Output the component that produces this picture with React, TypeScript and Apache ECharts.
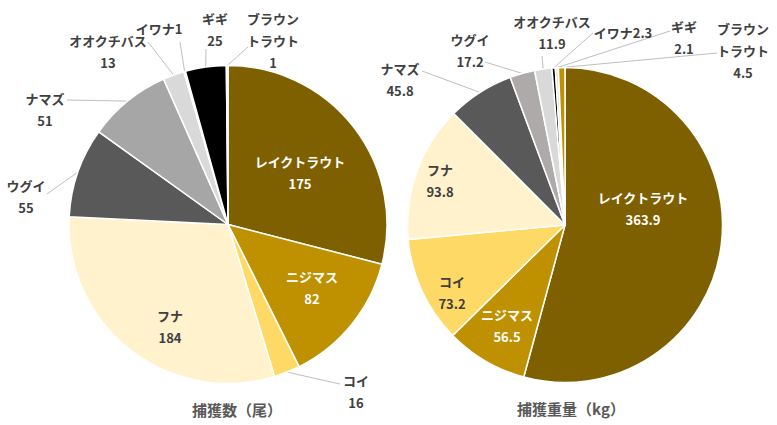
import React, { useEffect, useRef } from 'react';
import * as echarts from 'echarts';

// ---- data ----
const countNames = ['レイクトラウト', 'ニジマス', 'コイ', 'フナ', 'ウグイ', 'ナマズ', 'オオクチバス', 'イワナ', 'ギギ', 'ブラウントラウト'];
const countValues = [175, 82, 16, 184, 55, 51, 13, 1, 25, 1];
const weightNames = ['レイクトラウト', 'ニジマス', 'コイ', 'フナ', 'ナマズ', 'ウグイ', 'オオクチバス', 'イワナ', 'ギギ', 'ブラウントラウト'];
const weightValues = [363.9, 56.5, 73.2, 93.8, 45.8, 17.2, 11.9, 2.3, 2.1, 4.5];
const titles = ['捕獲数（尾）', '捕獲重量（kg）'];

// ---- styles ----
const countColors = ['#7F6000', '#BF9000', '#FFD966', '#FFF2CC', '#595959', '#A6A6A6', '#D9D9D9', '#F2F2F2', '#000000', '#F2F2F2'];
const weightColors = ['#7F6000', '#BF9000', '#FFD966', '#FFF2CC', '#595959', '#AEAAAA', '#D9D9D9', '#000000', '#E7E6E6', '#BF9000'];

const FONT = "'Noto Sans CJK JP', 'Noto Sans', sans-serif";
const DARK = '#404040';

type LabelStyle = { pos: [number, number]; attach?: [number, number]; fmt: 'stack' | 'inline' | 'wrap'; inside?: boolean; white?: boolean };

const pies = [
  {
    center: [228, 224.5] as [number, number],
    radius: 159,
    titlePos: [237, 409] as [number, number],
    labels: [
      { pos: [300, 172], fmt: 'stack', inside: true, white: true },
      { pos: [312, 287], fmt: 'stack', inside: true, white: true },
      { pos: [356, 391], attach: [340, 384], fmt: 'stack' },
      { pos: [170, 326], fmt: 'stack', inside: true },
      { pos: [26, 196], attach: [47, 194], fmt: 'stack' },
      { pos: [45, 109], attach: [67, 100], fmt: 'stack' },
      { pos: [108, 51], attach: [148, 42], fmt: 'stack' },
      { pos: [159, 28], attach: [180, 42], fmt: 'inline' },
      { pos: [215, 29], attach: [206, 49], fmt: 'stack' },
      { pos: [273, 40], attach: [248, 47], fmt: 'wrap' },
    ] as LabelStyle[],
  },
  {
    center: [565, 225] as [number, number],
    radius: 157.5,
    titlePos: [571, 408] as [number, number],
    labels: [
      { pos: [643, 208], fmt: 'stack', inside: true, white: true },
      { pos: [507, 325], fmt: 'stack', inside: true, white: true },
      { pos: [452, 292], fmt: 'stack', inside: true },
      { pos: [440, 180], fmt: 'stack', inside: true },
      { pos: [400, 79], attach: [422, 71], fmt: 'stack' },
      { pos: [470, 50], attach: [485, 62], fmt: 'stack' },
      { pos: [552, 32], attach: [542, 56], fmt: 'stack' },
      { pos: [623, 32], attach: [593, 33], fmt: 'inline' },
      { pos: [684, 37], attach: [670, 31], fmt: 'stack' },
      { pos: [743, 50], attach: [717, 53], fmt: 'wrap' },
    ] as LabelStyle[],
  },
];

function fmtValue(v: number, decimals: boolean) {
  return decimals ? v.toFixed(1) : String(v);
}

function labelText(name: string, value: string, fmt: string) {
  if (fmt === 'inline') return name + value;
  if (fmt === 'wrap') return name.slice(0, 4) + '\n' + name.slice(4) + '\n' + value;
  return name + '\n' + value;
}

export default function App() {
  const ref = useRef<HTMLDivElement>(null);
  useEffect(() => {
    document.body.style.margin = '0';
    if (!ref.current) return;
    const chart = echarts.init(ref.current, undefined, { renderer: 'svg' });

    const seriesData = [
      { names: countNames, values: countValues, colors: countColors, decimals: false },
      { names: weightNames, values: weightValues, colors: weightColors, decimals: true },
    ];

    const edgePoint = (s: number, i: number): [number, number] => {
      const vals = seriesData[s].values;
      const total = vals.reduce((a, b) => a + b, 0);
      let before = 0;
      for (let k = 0; k < i; k++) before += vals[k];
      const theta = ((before + vals[i] / 2) / total) * Math.PI * 2;
      const { center, radius } = pies[s];
      return [center[0] + radius * Math.sin(theta), center[1] - radius * Math.cos(theta)];
    };

    const series = seriesData.map((sd, s) => ({
      type: 'pie',
      center: pies[s].center,
      radius: pies[s].radius,
      startAngle: 90,
      clockwise: true,
      avoidLabelOverlap: false,
      itemStyle: { borderColor: '#FFFFFF', borderWidth: 1.5 },
      emphasis: { disabled: true },
      labelLine: { show: true, lineStyle: { color: '#BFBFBF', width: 1 } },
      data: sd.names.map((n, i) => {
        const ls = pies[s].labels[i];
        return {
          name: n,
          value: sd.values[i],
          itemStyle: { color: sd.colors[i] },
          label: {
            show: true,
            position: ls.inside ? 'inside' : 'outside',
            formatter: labelText(n, fmtValue(sd.values[i], sd.decimals), ls.fmt),
            color: ls.white ? '#FFFFFF' : DARK,
            fontFamily: FONT,
            fontWeight: 'bold',
            fontSize: 13,
            lineHeight: 22,
            align: 'center',
          },
          labelLine: { show: !ls.inside },
        };
      }),
      labelLayout: (params: any) => {
        const ls = pies[params.seriesIndex].labels[params.dataIndex];
        const out: any = { x: ls.pos[0], y: ls.pos[1], align: 'center', verticalAlign: 'middle' };
        if (!ls.inside && ls.attach) {
          const e = edgePoint(params.seriesIndex, params.dataIndex);
          const a = ls.attach;
          out.labelLinePoints = [e, [(e[0] + a[0]) / 2, (e[1] + a[1]) / 2], a];
        }
        return out;
      },
    }));

    chart.setOption({
      animation: false,
      backgroundColor: '#FFFFFF',
      series,
      graphic: titles.map((t, s) => ({
        type: 'text',
        x: pies[s].titlePos[0],
        y: pies[s].titlePos[1],
        style: {
          text: t,
          fill: '#595959',
          font: `bold 15px ${FONT}`,
          align: 'center',
          verticalAlign: 'middle',
        },
      })),
    } as any);

    return () => chart.dispose();
  }, []);

  return <div ref={ref} style={{ width: 777, height: 425 }} />;
}
